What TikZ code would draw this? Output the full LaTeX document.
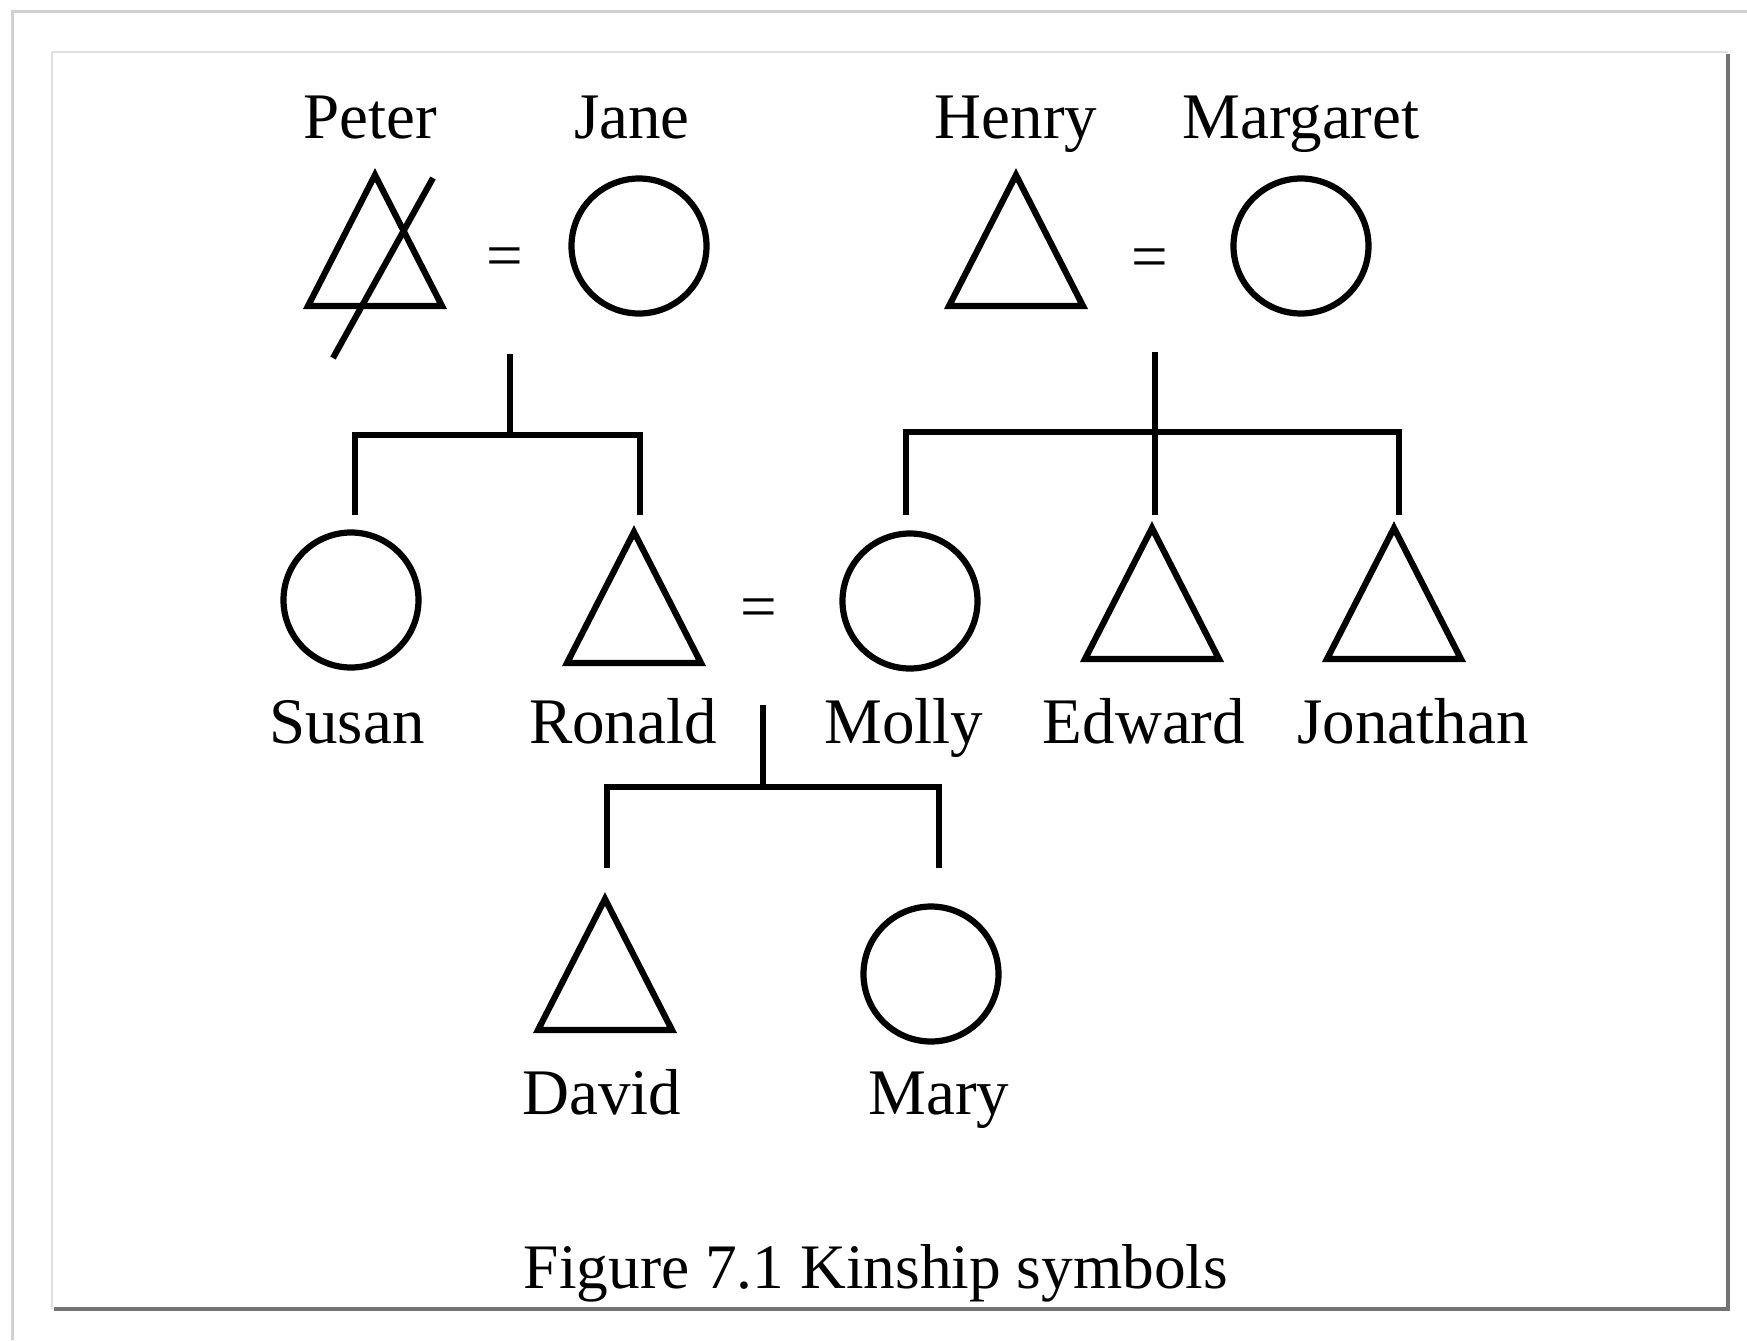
\documentclass[tikz,border=0pt]{standalone}
\usepackage{fontspec}
\setmainfont{Liberation Serif}
\usetikzlibrary{calc}
\newcommand\kintri[3]{%
  \draw[symbolline] ({#2-67},#3) -- (#2,{#3-131}) -- ({#2+67},#3) -- cycle;
  \coordinate (#1) at (#2,{#3-131});}
\begin{document}
\begin{tikzpicture}[x=0.5pt,y=-0.5pt,
  symbolline/.style={line width=3.1pt, line join=miter},
  kinline/.style={line width=3.2pt, line join=miter, line cap=butt},
  person/.style={font=\fontsize{32.5}{38}\selectfont, anchor=base, inner sep=0pt},
  female/.style={circle, draw, line width=3.1pt, minimum size=67.5pt, inner sep=0pt},
  eqsign/.style={font=\fontsize{32.5}{38}\selectfont, anchor=base, inner sep=0pt},
  captionstyle/.style={font=\fontsize{31.7}{37}\selectfont, anchor=base, inner sep=0pt}]
\useasboundingbox (0,0) rectangle (1747,1340);
\fill[white] (0,0) rectangle (1747,1340);
% frames
\draw[line width=1.5pt, black!18] (12,1340) -- (12,11) -- (1747,11);
\draw[line width=0.8pt, black!12] (52,1309) -- (52,52) -- (1728,52);
\draw[line width=2.4pt, black!55] (1728,54) -- (1728,1309) -- (54,1309);

% row 1
\kintri{peter}{375}{306}
\draw[symbolline] (333,358) -- (433,178);
\node[female] (jane) at (639,246) {};
\node[eqsign] (eqpj) at (505,277) {=};
\kintri{henry}{1016}{306}
\node[female] (margaret) at (1301,246) {};
\node[eqsign] (eqhm) at (1150,278) {=};

\node[person] (peterlbl) at (370,138) {Peter};
\node[person] (janelbl) at (632,138) {Jane};
\node[person] (henrylbl) at (1016,138) {Henry};
\node[person] (margaretlbl) at (1301,138) {Margaret};

% row 2
\node[female] (susan) at (351,600) {};
\kintri{ronald}{634}{663}
\node[eqsign] (eqrm) at (759,628) {=};
\node[female] (molly) at (910,601) {};
\kintri{edward}{1152}{659}
\kintri{jonathan}{1394}{659}

\node[person] (susanlbl) at (347,743) {Susan};
\node[person] (ronaldlbl) at (623,743) {Ronald};
\node[person] (mollylbl) at (904,743) {Molly};
\node[person] (edwardlbl) at (1144,743) {Edward};
\node[person] (jonathanlbl) at (1413,743) {Jonathan};

% row 3
\kintri{david}{605}{1030}
\node[female] (mary) at (931,974) {};
\node[person] (davidlbl) at (602,1114) {David};
\node[person] (marylbl) at (939,1114) {Mary};

% caption
\node[captionstyle] (caption) at (876,1288) {Figure 7.1 Kinship symbols};

% descent lines: Peter = Jane
\coordinate (pjtop) at (510,354);
\coordinate (pjbar) at (510,435);
\coordinate (susanup) at (355,515);
\coordinate (ronaldup) at (640,515);
\draw[kinline] (pjtop) -- (pjbar);
\draw[kinline] (susanup) |- (pjbar) -| (ronaldup);

% descent lines: Henry = Margaret
\coordinate (hmtop) at (1155,352);
\coordinate (hmbar) at (1155,432);
\coordinate (mollyup) at (906,515);
\coordinate (edwardup) at (1155,515);
\coordinate (jonathanup) at (1399,515);
\draw[kinline] (hmtop) -- (edwardup);
\draw[kinline] (mollyup) |- (hmbar) -| (jonathanup);

% descent lines: Ronald = Molly
\coordinate (rmtop) at (763,705);
\coordinate (rmbar) at (763,787);
\coordinate (davidup) at (607,868);
\coordinate (maryup) at (939,868);
\draw[kinline] (rmtop) -- (rmbar);
\draw[kinline] (davidup) |- (rmbar) -| (maryup);
\end{tikzpicture}
\end{document}
